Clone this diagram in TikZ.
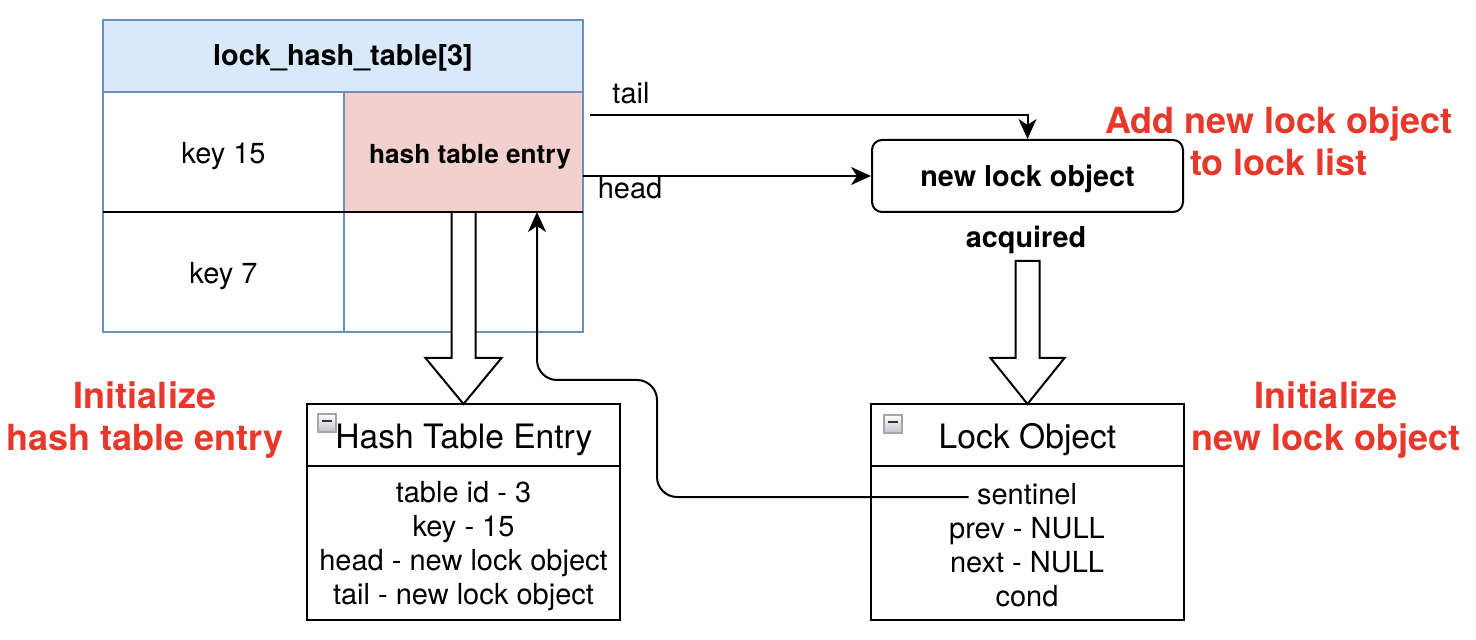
\documentclass[tikz,border=0pt]{standalone}
\usepackage{fontspec}
\setmainfont{TeX Gyre Heros}
\usetikzlibrary{arrows.meta,calc}
\definecolor{cellblue}{HTML}{6C8EBF}
\definecolor{headfill}{HTML}{DAE8FC}
\definecolor{pinkfill}{HTML}{F2D0CD}
\definecolor{redtxt}{HTML}{E8372B}
\begin{document}
\begin{tikzpicture}[x=0.5pt,y=-0.5pt,
  cell/.style={draw=cellblue, line width=1pt, inner sep=0pt, outer sep=0pt, text height=13pt, text depth=1pt, font=\fontsize{14.5pt}{17pt}\selectfont},
  boldtxt/.style={font=\fontsize{14.4pt}{17pt}\selectfont\bfseries},
  conn/.style={draw=black, line width=1pt, -{Stealth[length=10pt,width=9pt,inset=3pt]}},
  umlbox/.style={draw, line width=1pt, minimum width=156.5pt, minimum height=108pt, inner sep=0pt, outer sep=0pt},
  txt/.style={font=\fontsize{14.5pt}{17pt}\selectfont, inner sep=0pt, text height=10pt, text depth=3pt},
  titletxt/.style={font=\fontsize{16.8pt}{20pt}\selectfont, inner sep=0pt},
  redlbl/.style={text=redtxt, font=\fontsize{18pt}{21pt}\selectfont\bfseries, align=center, inner sep=0pt},
  hollow/.style={draw, line width=1pt, fill=white, line join=miter},
  icon/.style={draw=gray!70, line width=0.6pt, minimum size=9pt, inner sep=0pt, top color=white, bottom color=blue!10!gray!45}
]
\useasboundingbox (0,0) rectangle (1476,640);

% table
\node[cell, fill=headfill, minimum width=240pt, minimum height=36pt, boldtxt, text height=11pt, text depth=1pt] (hdr) at (343,56) {lock\_hash\_table[3]};
\node[cell, minimum width=120.5pt, minimum height=60pt] (k15) at (223.5,152) {key 15};
\node[cell, fill=pinkfill, minimum width=119.5pt, minimum height=60pt, font=\fontsize{13.1pt}{16pt}\selectfont\bfseries] (pink) at (463.5,152) {\hspace*{6.5pt}hash table entry};
\node[cell, minimum width=120.5pt, minimum height=60pt] (k7) at (223.5,272) {key 7};
\node[cell, minimum width=119.5pt, minimum height=60pt] (e7) at (463.5,272) {};

% new lock object
\node[draw, line width=1pt, rounded corners=5pt, minimum width=155.5pt, minimum height=36pt, inner sep=0pt, text height=12pt, text depth=1pt, boldtxt] (newlock) at (1027.5,176) {new lock object};
\node[boldtxt, inner sep=0pt] (acq) at (1026,240) {acquired};
\coordinate (acqS) at (1028,261);

% UML boxes
\node[umlbox] (hte) at (463.5,512) {};
\draw[line width=1pt] ($(hte.north west)+(0,62)$) -- ($(hte.north east)+(0,62)$);
\node[titletxt] (hteT) at (464,440) {Hash Table Entry};
\node[txt, align=center, text height=, text depth=] (hteB) at (463.5,546) {table id - 3\\key - 15\\head - new lock object\\tail - new lock object};
\node[icon] (ic1) at (327,423) {};
\draw[line width=1.2pt, black!80] ($(ic1.center)+(-5,-2)$) -- ($(ic1.center)+(5,-2)$);

\node[umlbox] (lock) at (1027.5,512) {};
\draw[line width=1pt] ($(lock.north west)+(0,62)$) -- ($(lock.north east)+(0,62)$);
\node[titletxt] (lockT) at (1027.5,440) {Lock Object};
\node[txt, inner xsep=4pt] (sent) at (1027,497) {sentinel};
\node[txt] (prev) at (1027,531) {prev - NULL};
\node[txt] (next) at (1027,565) {next - NULL};
\node[txt] (cond) at (1027,599) {cond};
\node[icon] (ic2) at (893,424) {};
\draw[line width=1.2pt, black!80] ($(ic2.center)+(-5,-2)$) -- ($(ic2.center)+(5,-2)$);

% hollow arrows
\draw[hollow] ($(pink.south)+(-12,0)$) -- ($(hte.north)+(-12,-46)$) -- ($(hte.north)+(-38,-46)$) -- (hte.north) -- ($(hte.north)+(38,-46)$) -- ($(hte.north)+(12,-46)$) -- ($(pink.south)+(12,0)$);
\draw[hollow] ($(lock.north |- acqS)+(-12,0)$) -- ($(lock.north)+(-12,-46)$) -- ($(lock.north)+(-37,-46)$) -- (lock.north) -- ($(lock.north)+(37,-46)$) -- ($(lock.north)+(12,-46)$) -- ($(lock.north |- acqS)+(12,0)$) -- cycle;

% black row line
\draw[line width=1pt] (k15.south west) -- (pink.south east);

% connectors
\coordinate (tailS) at (590,115);
\draw[conn] (tailS) -| (newlock.north);
\node[txt] (tailL) at (631,97) {tail};
\draw[conn] (pink.east |- newlock.west) -- (newlock.west);
\node[txt] (headL) at (630,192) {head};

\coordinate (bend) at (657,380);
\coordinate (entIn) at ($(pink.south)+(73.5,0)$);
\draw[conn, rounded corners=10pt] (sent.west) -| (bend) -| (entIn);

% red labels
\node[redlbl] (lblL) at (145,420) {Initialize\\hash table entry};
\node[redlbl] (lblR) at (1326,420) {Initialize\\new lock object};
\node[redlbl] (lblT) at (1279,141) {Add new lock object\\to lock list};
\end{tikzpicture}
\end{document}
